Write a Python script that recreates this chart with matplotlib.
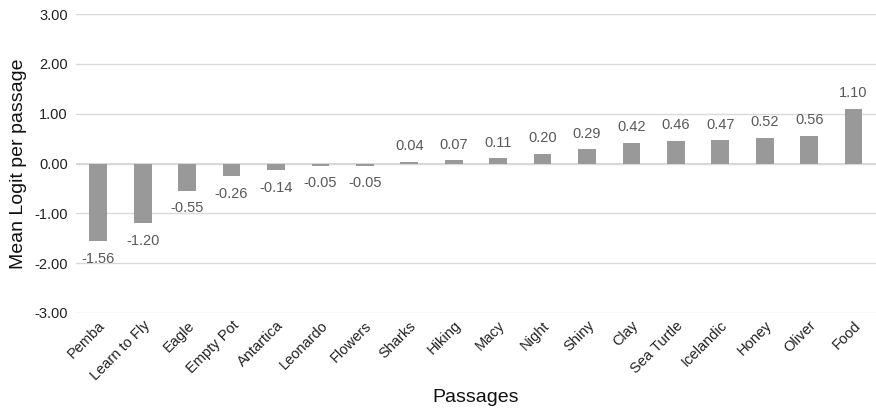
import matplotlib
matplotlib.use("Agg")
import matplotlib.pyplot as plt

passages = ["Pemba", "Learn to Fly", "Eagle", "Empty Pot", "Antartica", "Leonardo",
            "Flowers", "Sharks", "Hiking", "Macy", "Night", "Shiny", "Clay",
            "Sea Turtle", "Icelandic", "Honey", "Oliver", "Food"]
mean_logit = [-1.56, -1.20, -0.55, -0.26, -0.14, -0.05, -0.05, 0.04, 0.07, 0.11,
              0.20, 0.29, 0.42, 0.46, 0.47, 0.52, 0.56, 1.10]
y_ticks = [-3, -2, -1, 0, 1, 2, 3]

plt.rcParams['font.family'] = ['Liberation Sans', 'DejaVu Sans']

fig = plt.figure(figsize=(8.76, 4.15), dpi=100)
ax = fig.add_axes([0.0868, 0.246, 0.913, 0.72])

x = range(len(passages))
ax.bar(x, mean_logit, width=0.4, color="#999999", zorder=3)

for xi, v in zip(x, mean_logit):
    off = 6 if v >= 0 else -7.5
    va = "bottom" if v >= 0 else "top"
    ax.annotate(f"{v:.2f}", (xi, v), xytext=(0, off), textcoords="offset points",
                ha="center", va=va, fontsize=10.5, color="#595959")

ax.set_ylim(-3, 3)
ax.set_yticks(y_ticks)
ax.set_yticklabels([f"{t:.2f}" for t in y_ticks], fontsize=10.5, color="#222222")
ax.set_xlim(-0.5, len(passages) - 0.5)
ax.set_xticks(list(x))
ax.set_xticklabels(passages, rotation=45, ha="right", rotation_mode="anchor",
                   fontsize=10.5, color="#222222")
ax.tick_params(axis="both", length=0, pad=6)
ax.tick_params(axis="x", pad=4)

ax.grid(axis="y", color="#d9d9d9", linewidth=1, zorder=0)
for s in ax.spines.values():
    s.set_visible(False)
ax.axhline(0, color="#d0d0d0", linewidth=1.2, zorder=1)

ax.set_ylabel("Mean Logit per passage", fontsize=14, color="#111111", labelpad=5)
ax.set_xlabel("Passages", fontsize=14, color="#111111", labelpad=4)

fig.savefig("out.png", dpi=100)
